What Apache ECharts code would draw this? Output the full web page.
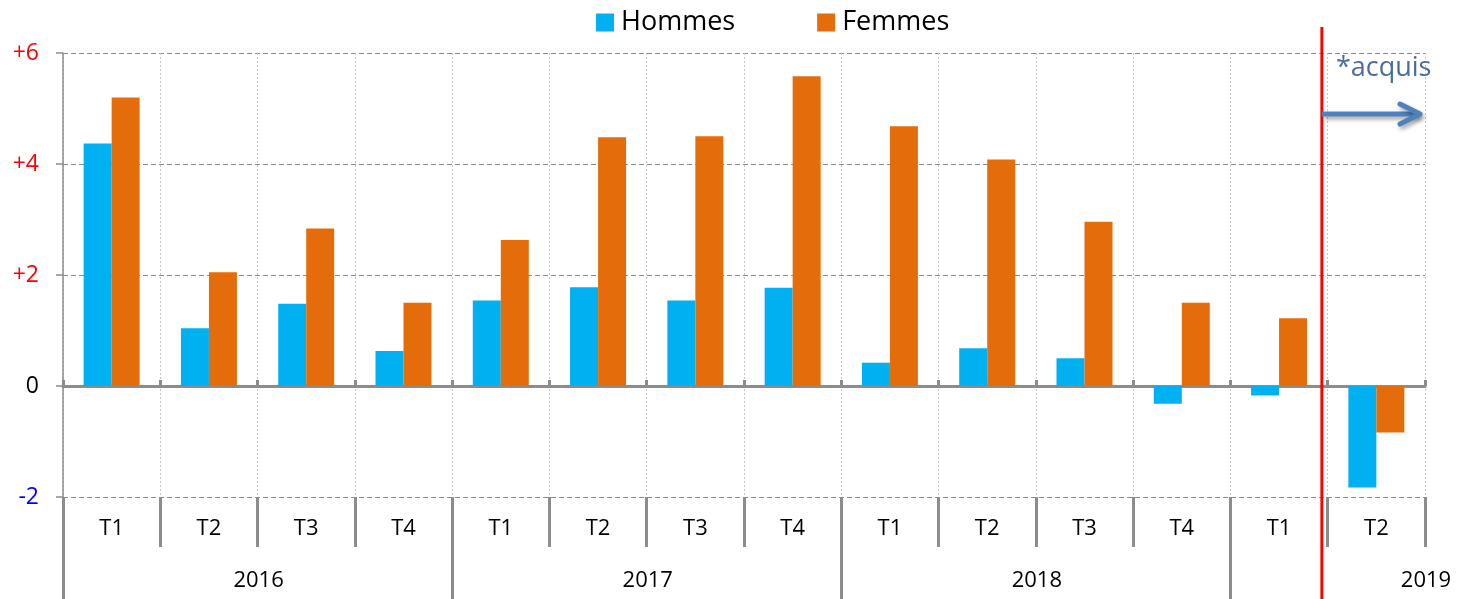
<!DOCTYPE html>
<html>
<head>
<meta charset="utf-8">
<script src="https://cdn.jsdelivr.net/npm/echarts@6/dist/echarts.min.js"></script>
<style>
  html,body{margin:0;padding:0;background:#fff}
  #c{width:1458px;height:599px}
</style>
</head>
<body>
<div id="c"></div>
<script>
// trimestres / années / valeurs
const quarters = ['T1','T2','T3','T4','T1','T2','T3','T4','T1','T2','T3','T4','T1','T2']
const years    = ['2016','2017','2018','2019']
const yearStart = [0,4,8,12]          // index du premier trimestre de chaque année
const yearLabelAt = [2,6,10,14]       // où l'étiquette de l'année est posée (2019 décalée à droite)
const hommes = [4.37,1.04,1.48,0.63, 1.54,1.78,1.54,1.77, 0.42,0.68,0.50,-0.32, -0.17,-1.83]
const femmes = [5.20,2.05,2.84,1.50, 2.63,4.48,4.50,5.58, 4.68,4.08,2.96,1.50, 1.22,-0.84]
const acquisFrom = 12.94              // trait rouge : début de l'acquis
const acquisLevel = 4.9               // hauteur de la flèche

const GRAY = '#8c8c8c'
const FONT = '"Open Sans"'
const yColor = v => v>0 ? '#ff0000' : (v<0 ? '#0000ff' : '#000')

const chart = echarts.init(document.getElementById('c'))
chart.setOption({
  animation:false,
  backgroundColor:'#fff',
  textStyle:{fontFamily:FONT},
  legend:{
    top:4, left:591, itemGap:82, itemWidth:18, itemHeight:18, icon:'rect',
    textStyle:{fontSize:27, color:'#000', fontFamily:FONT, padding:[0,0,0,2]},
    data:['Hommes','Femmes']
  },
  grid:{left:63, right:33, top:53, bottom:102, outerBoundsMode:'none'},
  yAxis:{
    type:'value', min:-2, max:6, interval:2,
    axisLine:{show:true, lineStyle:{color:GRAY, width:1.5}},
    axisTick:{show:true, length:7, lineStyle:{color:GRAY, width:1.5}},
    axisLabel:{fontSize:23, margin:24, fontFamily:FONT,
      formatter:v=> v>0 ? '+'+v : ''+v, color:v=>yColor(+v)},
    splitLine:{show:true, lineStyle:{color:'#8a8a8a', type:[5,3], width:1}}
  },
  xAxis:[
    { // axe des barres, posé sur zéro
      type:'category', data:quarters, position:'bottom',
      axisLine:{onZero:true, lineStyle:{color:GRAY, width:3}},
      axisTick:{show:true, inside:true, length:6, interval:0, lineStyle:{color:GRAY, width:3}},
      axisLabel:{show:false},
      splitLine:{show:true, interval:0, lineStyle:{color:'#c4c4c4', type:[2,2], width:1}}
    },
    { // trimestres en bas
      type:'category', data:quarters, position:'bottom',
      axisLine:{show:false, onZero:false},
      axisTick:{show:true, length:50, interval:0, lineStyle:{color:GRAY, width:3}},
      axisLabel:{interval:0, fontSize:22, color:'#000', margin:21, fontFamily:FONT},
      splitLine:{show:false}
    },
    { // années
      type:'value', min:0, max:quarters.length, position:'bottom',
      axisLine:{show:false, onZero:false},
      axisTick:{show:true, length:102, customValues:yearStart, lineStyle:{color:GRAY, width:3}},
      axisLabel:{fontSize:22, color:'#000', margin:73, fontFamily:FONT, padding:[0,0,0,2],
        customValues:yearLabelAt, formatter:v=>years[yearLabelAt.indexOf(+v)] || ''},
      splitLine:{show:false}
    }
  ],
  series:[
    {name:'Hommes', type:'bar', data:hommes, barWidth:28, barGap:'0%', itemStyle:{color:'#00b0f0'}},
    {name:'Femmes', type:'bar', data:femmes, barWidth:28, barGap:'0%', itemStyle:{color:'#e46c0a'}}
  ]
})

// trait rouge + flèche "acquis", positionnés via les échelles du graphique
const xr  = chart.convertToPixel({xAxisIndex:2}, acquisFrom)
const xe  = chart.convertToPixel({xAxisIndex:2}, quarters.length) - 5
const ya  = chart.convertToPixel({yAxisIndex:0}, acquisLevel)
const yTop = chart.convertToPixel({yAxisIndex:0}, 6)
const ARROW = '#4f81bd'
const shadow = {shadowBlur:4, shadowOffsetX:2, shadowOffsetY:3, shadowColor:'rgba(0,0,0,0.35)'}
chart.setOption({
  graphic:[
    {type:'line', z:100, shape:{x1:xr, y1:yTop-26, x2:xr, y2:599}, style:{stroke:'#ff0000', lineWidth:3}},
    {type:'line', z:101, shape:{x1:xr, y1:ya, x2:xe-2, y2:ya},
      style:Object.assign({stroke:ARROW, lineWidth:5, lineCap:'butt'}, shadow)},
    {type:'polyline', z:101, shape:{points:[[xe-20,ya-10],[xe,ya],[xe-20,ya+10]]},
      style:Object.assign({stroke:ARROW, lineWidth:5, lineCap:'round', lineJoin:'round', fill:null}, shadow)},
    {type:'text', z:102, x:xr+14, y:yTop+2,
      style:{text:'*acquis', fontSize:27, fill:'#4a6c9f', fontFamily:FONT}}
  ]
})
</script>
</body>
</html>
